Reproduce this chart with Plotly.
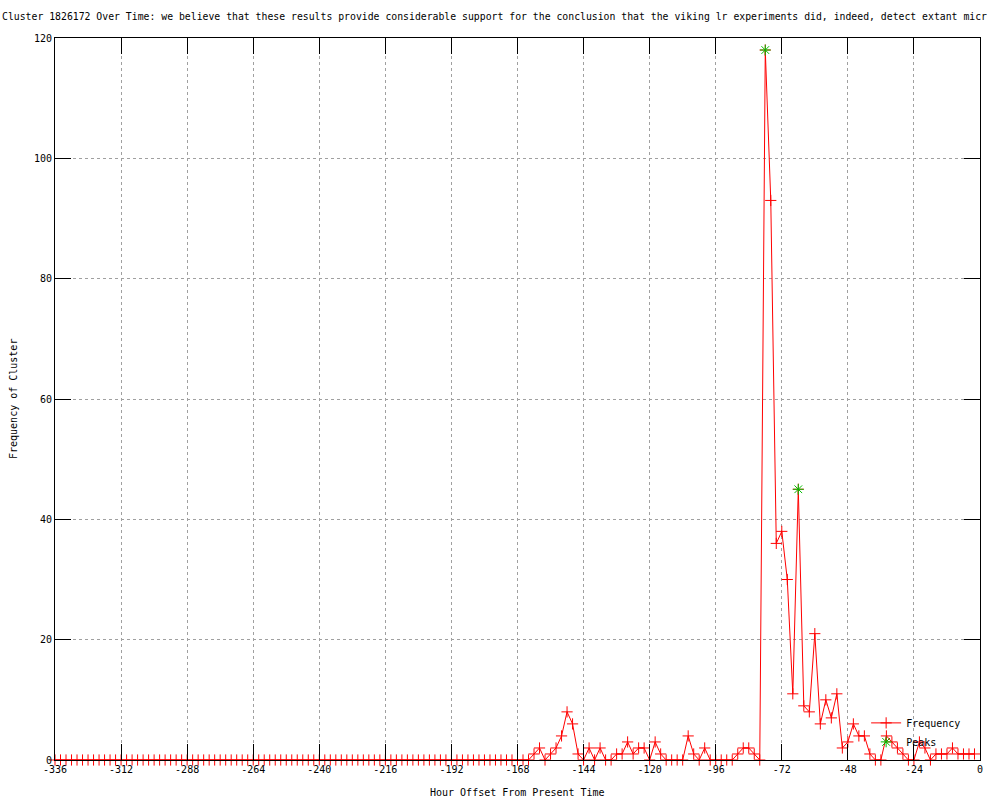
import plotly.graph_objects as go

# ---- data ----
hours = list(range(-336, 0, 2))  # -336 ... -2, every 2 hours

frequency = [
    # -336 .. -164 (87 points)
    0, 0, 0, 0, 0, 0, 0, 0, 0, 0, 0, 0, 0, 0, 0, 0, 0, 0, 0, 0,
    0, 0, 0, 0, 0, 0, 0, 0, 0, 0, 0, 0, 0, 0, 0, 0, 0, 0, 0, 0,
    0, 0, 0, 0, 0, 0, 0, 0, 0, 0, 0, 0, 0, 0, 0, 0, 0, 0, 0, 0,
    0, 0, 0, 0, 0, 0, 0, 0, 0, 0, 0, 0, 0, 0, 0, 0, 0, 0, 0, 0,
    0, 0, 0, 0, 0, 0, 0,
    # -162 .. -128
    1, 2, 0, 1, 2, 4, 8, 6, 1, 0, 2, 0, 2, 0, 0, 1, 1, 3,
    # -126 .. -80
    1, 2, 2, 0, 3, 1, 0, 0, 0, 0, 4, 1, 0, 2, 0, 0, 0, 0, 0, 1, 2, 2, 1, 0,
    # -78 .. -40
    118, 93, 36, 38, 30, 11, 45, 9, 8, 21, 6, 10, 7, 11, 2, 3, 6, 4, 4, 1,
    # -38 .. -2
    0, 0, 4, 3, 2, 1, 0, 0, 3, 2, 0, 1, 1, 1, 2, 1, 1, 1, 1,
]

peak_hours = [-78, -66]
peak_values = [118, 45]

x_ticks = [-336, -312, -288, -264, -240, -216, -192, -168, -144, -120, -96, -72, -48, -24, 0]
y_ticks = [0, 20, 40, 60, 80, 100, 120]

title_text = ("Cluster 1826172 Over Time: we believe that these results provide considerable "
              "support for the conclusion that the viking lr experiments did, indeed, detect extant micr")

FONT = "DejaVu Sans Mono"

fig = go.Figure()
fig.add_trace(go.Scatter(
    x=hours, y=frequency, name="Frequency", mode="lines+markers",
    line=dict(color="#ff0000", width=1),
    marker=dict(symbol="cross-thin", size=8, color="#ff0000",
                line=dict(color="#ff0000", width=1)),
    cliponaxis=False,
))
fig.add_trace(go.Scatter(
    x=peak_hours, y=peak_values, name="Peaks", mode="markers",
    marker=dict(symbol="asterisk-open", size=9, color="#00c000",
                line=dict(color="#00c000", width=1)),
    cliponaxis=False,
))

axis_common = dict(
    showline=True, linecolor="black", linewidth=1, mirror="allticks",
    ticks="inside", ticklen=16, tickcolor="black", tickwidth=1,
    showgrid=True, gridcolor="#a0a0a0", griddash="dot", gridwidth=1,
    zeroline=False, tickfont=dict(family=FONT, size=10, color="black"),
)

fig.update_xaxes(range=[-336, 0], tickvals=x_ticks, ticktext=[str(v) for v in x_ticks], **axis_common)
fig.update_yaxes(range=[0, 120], tickvals=y_ticks, **axis_common)

fig.update_layout(
    width=1000, height=800,
    margin=dict(l=55, r=20, t=38, b=40),
    plot_bgcolor="white", paper_bgcolor="white",
    font=dict(family=FONT, size=10, color="black"),
    title=dict(text=title_text, x=0.002, xanchor="left", xref="container",
               y=1 - 17 / 800, yanchor="middle", yref="container",
               font=dict(family=FONT, size=9.8, color="black")),
    showlegend=True,
    legend=dict(x=0.985, xanchor="right", y=0.005, yanchor="bottom",
                bgcolor="rgba(0,0,0,0)", font=dict(family=FONT, size=10),
                tracegroupgap=0, itemwidth=30),
    annotations=[
        dict(text="Frequency of Cluster", xref="paper", yref="paper",
             x=(13 - 55) / 925, y=0.5, xanchor="center", yanchor="middle",
             textangle=-90, showarrow=False, font=dict(family=FONT, size=10)),
        dict(text="Hour Offset From Present Time", xref="paper", yref="paper",
             x=0.5, y=-(793 - 760) / 722, xanchor="center", yanchor="middle",
             showarrow=False, font=dict(family=FONT, size=10)),
    ],
)

fig.write_html("out.html",
               config={"displayModeBar": False},
               post_script="document.body.style.margin='0';document.body.style.overflow='hidden';")
